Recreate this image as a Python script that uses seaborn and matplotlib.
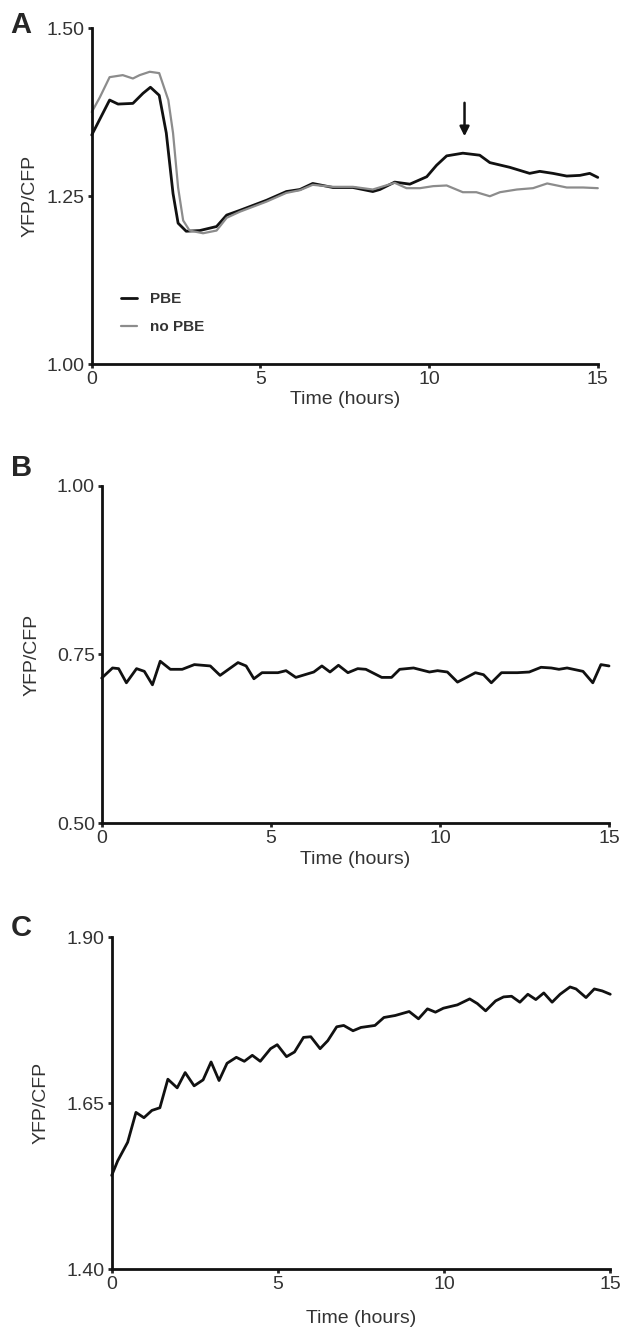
import pandas as pd
import matplotlib.pyplot as plt
import seaborn as sns

# Panel A - PBE (black) and no PBE (grey)
a_pbe_t = [0, 0.53, 0.78, 1.22, 1.52, 1.74, 2.0, 2.21, 2.41, 2.56, 2.8, 3.2, 3.7, 4.0, 4.39,
           5.18, 5.77, 6.17, 6.55, 7.15, 7.74, 8.33, 8.54, 8.98, 9.43, 9.93, 10.22, 10.52,
           11.0, 11.5, 11.8, 12.39, 12.98, 13.28, 13.67, 14.08, 14.47, 14.76, 15.0]
a_pbe_v = [1.341, 1.393, 1.387, 1.388, 1.403, 1.412, 1.400, 1.344, 1.254, 1.210, 1.198, 1.199,
           1.205, 1.222, 1.229, 1.244, 1.257, 1.260, 1.269, 1.263, 1.263, 1.257, 1.260, 1.271,
           1.268, 1.279, 1.296, 1.310, 1.314, 1.311, 1.300, 1.293, 1.284, 1.287, 1.284, 1.280,
           1.281, 1.284, 1.278]
a_nopbe_t = [0, 0.24, 0.53, 0.92, 1.22, 1.42, 1.72, 2.0, 2.27, 2.41, 2.56, 2.71, 2.9, 3.3,
             3.7, 4.0, 4.39, 5.18, 5.77, 6.17, 6.55, 7.15, 7.74, 8.33, 8.98, 9.33, 9.73,
             10.12, 10.52, 11.0, 11.4, 11.8, 12.1, 12.6, 13.08, 13.5, 14.08, 14.56, 15.0]
a_nopbe_v = [1.375, 1.397, 1.427, 1.430, 1.425, 1.430, 1.435, 1.433, 1.393, 1.344, 1.263,
             1.214, 1.199, 1.195, 1.199, 1.218, 1.227, 1.242, 1.255, 1.259, 1.267, 1.264,
             1.264, 1.260, 1.270, 1.262, 1.262, 1.265, 1.266, 1.256, 1.256, 1.250, 1.256,
             1.260, 1.262, 1.269, 1.263, 1.263, 1.262]
arrow_t = 11.05
arrow_from, arrow_to = 1.393, 1.335

# Panel B
b_t = [0, 0.32, 0.5, 0.73, 1.03, 1.26, 1.5, 1.73, 2.03, 2.38, 2.74, 3.21, 3.5, 4.03, 4.27,
       4.5, 4.74, 5.21, 5.45, 5.74, 6.27, 6.51, 6.75, 7.0, 7.28, 7.57, 7.81, 8.28, 8.57,
       8.81, 9.22, 9.69, 9.93, 10.22, 10.52, 11.05, 11.29, 11.52, 11.82, 12.29, 12.64,
       12.99, 13.29, 13.52, 13.76, 14.23, 14.52, 14.76, 15.0]
b_v = [0.715, 0.730, 0.729, 0.708, 0.729, 0.725, 0.705, 0.740, 0.728, 0.728, 0.735, 0.733,
       0.719, 0.738, 0.733, 0.714, 0.723, 0.723, 0.726, 0.716, 0.724, 0.733, 0.724, 0.734,
       0.723, 0.729, 0.728, 0.716, 0.716, 0.728, 0.730, 0.724, 0.726, 0.724, 0.709, 0.723,
       0.720, 0.708, 0.723, 0.723, 0.724, 0.731, 0.730, 0.728, 0.730, 0.725, 0.708, 0.735,
       0.733]

# Panel C
c_t = [0, 0.18, 0.48, 0.73, 0.97, 1.21, 1.45, 1.69, 1.97, 2.21, 2.48, 2.75, 2.99, 3.23,
       3.47, 3.75, 3.99, 4.23, 4.47, 4.78, 4.98, 5.26, 5.5, 5.77, 5.99, 6.27, 6.5, 6.77,
       6.98, 7.26, 7.5, 7.92, 8.19, 8.53, 8.95, 9.23, 9.5, 9.74, 9.98, 10.4, 10.77, 11.0,
       11.25, 11.55, 11.79, 12.03, 12.28, 12.52, 12.76, 13.0, 13.25, 13.49, 13.79, 13.97,
       14.27, 14.52, 14.76, 15.0]
c_v = [1.541, 1.563, 1.591, 1.636, 1.628, 1.639, 1.643, 1.686, 1.673, 1.696, 1.676, 1.685,
       1.712, 1.684, 1.710, 1.719, 1.713, 1.722, 1.713, 1.732, 1.738, 1.720, 1.727, 1.749,
       1.750, 1.732, 1.744, 1.765, 1.767, 1.759, 1.764, 1.767, 1.779, 1.782, 1.788, 1.777,
       1.792, 1.787, 1.793, 1.798, 1.807, 1.800, 1.789, 1.804, 1.810, 1.811, 1.802, 1.814,
       1.806, 1.816, 1.802, 1.814, 1.825, 1.822, 1.809, 1.822, 1.819, 1.814]

sns.set_style('ticks')
plt.rcParams['font.family'] = ['Liberation Sans', 'DejaVu Sans']

txt = '#333333'
fig = plt.figure(figsize=(6.24, 13.35), dpi=100)
ax_a = fig.add_axes([0.147, 0.727, 0.811, 0.252])
ax_b = fig.add_axes([0.163, 0.3835, 0.813, 0.2525])
ax_c = fig.add_axes([0.179, 0.0494, 0.799, 0.2486])

df_a = pd.concat([
    pd.DataFrame({'t': a_pbe_t, 'v': a_pbe_v, 'cond': 'PBE'}),
    pd.DataFrame({'t': a_nopbe_t, 'v': a_nopbe_v, 'cond': 'no PBE'}),
])
sns.lineplot(data=df_a, x='t', y='v', hue='cond', size='cond',
             palette={'PBE': '#111111', 'no PBE': '#8c8c8c'},
             sizes={'PBE': 2.0, 'no PBE': 1.6}, ax=ax_a, clip_on=False)
ax_a.annotate('', xy=(arrow_t, arrow_to), xytext=(arrow_t, arrow_from),
              arrowprops=dict(arrowstyle='-|>', color='#111111', lw=1.8, mutation_scale=14))
leg = ax_a.legend(loc='lower left', bbox_to_anchor=(0.03, 0.05), frameon=False,
                  handlelength=1.1, labelspacing=0.9, prop={'size': 11, 'weight': 'bold'})
for t in leg.get_texts():
    t.set_color(txt)

sns.lineplot(x=b_t, y=b_v, color='#111111', linewidth=2.0, ax=ax_b, clip_on=False)
sns.lineplot(x=c_t, y=c_v, color='#111111', linewidth=2.0, ax=ax_c, clip_on=False)

# letter, y-range, ticks, xlabel pad, ylabel pad, letter position (px)
panels = [(ax_a, 'A', (1.0, 1.5), [1.00, 1.25, 1.50], 2, 6, (10, 25)),
          (ax_b, 'B', (0.5, 1.0), [0.50, 0.75, 1.00], 3, 12, (11, 468)),
          (ax_c, 'C', (1.4, 1.9), [1.40, 1.65, 1.90], 12, 12, (11, 928))]
for ax, letter, ylim, yt, xpad, ypad, (lx, ly) in panels:
    ax.set_xlim(0, 15)
    ax.set_ylim(*ylim)
    ax.set_xticks([0, 5, 10, 15])
    ax.set_yticks(yt)
    ax.set_yticklabels([f'{v:.2f}' for v in yt])
    ax.set_xlabel('Time (hours)', fontsize=14, color=txt, labelpad=xpad)
    ax.set_ylabel('YFP/CFP', fontsize=14, color=txt, labelpad=ypad)
    ax.tick_params(labelsize=14, labelcolor=txt, length=3, width=2, pad=2)
    for s in ['left', 'bottom']:
        ax.spines[s].set_linewidth(2.0)
        ax.spines[s].set_color('#111111')
    sns.despine(ax=ax)
    fig.text(lx / 624, 1 - ly / 1335, letter, fontsize=21, fontweight='bold',
             va='center', ha='left')

fig.savefig('out.png', dpi=100)
